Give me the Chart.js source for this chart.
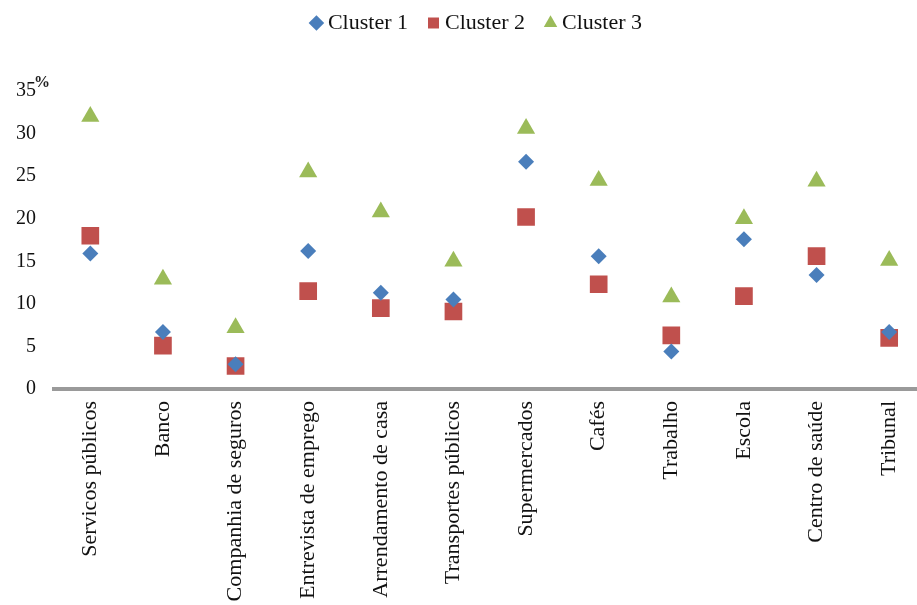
<!DOCTYPE html>
<html>
<head>
<meta charset="utf-8">
<script src="https://cdn.jsdelivr.net/npm/chart.js@4/dist/chart.umd.min.js"></script>
<style>
    html, body { margin: 0; padding: 0; background: #fff; overflow: hidden; }
    #wrap { width: 938px; height: 605px; }
</style>
</head>
<body>
<div id="wrap"><canvas id="chart"></canvas></div>
<script>
// Data
const categories = [
    'Servicos públicos', 'Banco', 'Companhia de seguros', 'Entrevista de emprego',
    'Arrendamento de casa', 'Transportes públicos', 'Supermercados', 'Cafés',
    'Trabalho', 'Escola', 'Centro de saúde', 'Tribunal'
];
const cluster1 = [15.9, 6.7, 2.9, 16.2, 11.3, 10.5, 26.7, 15.6, 4.4, 17.6, 13.4, 6.7];
const cluster2 = [18.0, 5.1, 2.7, 11.5, 9.5, 9.1, 20.2, 12.3, 6.3, 10.9, 15.6, 6.0];
const cluster3 = [32.0, 12.9, 7.2, 25.5, 20.8, 15.0, 30.6, 24.5, 10.8, 20.0, 24.4, 15.1];
const yTicks = [0, 5, 10, 15, 20, 25, 30, 35];

const serif = '"Liberation Serif", "DejaVu Serif", serif';

// extra room under the legend, and nudge where it is drawn
const legendSpacer = {
    id: 'legendSpacer',
    beforeInit: (chart) => {
        const legend = chart.legend;
        const fit = legend.fit;
        const draw = legend.draw;
        legend.fit = function () {
            fit.call(this);
            this.height += 34;
        };
        legend.draw = function (...args) {
            const ctx = this.ctx;
            ctx.save();
            ctx.translate(10, -13);
            draw.apply(this, args);
            ctx.restore();
        };
    }
};

// little "%" next to the top tick
const percentLabel = {
    id: 'percentLabel',
    afterDraw: (chart) => {
        const { ctx, scales } = chart;
        const y = scales.y.getPixelForValue(35);
        ctx.save();
        ctx.font = `bold 16px ${serif}`;
        ctx.fillStyle = '#222';
        ctx.textAlign = 'left';
        ctx.textBaseline = 'middle';
        ctx.fillText('%', 34, y - 8);
        ctx.restore();
    }
};

const ds = (label, data, color, style, radius) => ({
    label,
    data,
    backgroundColor: color,
    borderColor: color,
    pointStyle: style,
    pointRadius: radius,
    pointHoverRadius: radius,
    borderWidth: 0,
    showLine: false
});

new Chart(document.getElementById('chart'), {
    type: 'line',
    data: {
        labels: categories,
        datasets: [
            ds('Cluster 1', cluster1, '#4A7EBB', 'rectRot', 8),
            ds('Cluster 2', cluster2, '#C0504D', 'rect', 12.5),
            ds('Cluster 3', cluster3, '#9BBB59', 'triangle', 10.5)
        ]
    },
    options: {
        responsive: true,
        maintainAspectRatio: false,
        animation: false,
        layout: { padding: 0 },
        plugins: {
            tooltip: { enabled: false },
            legend: {
                position: 'top',
                labels: {
                    usePointStyle: true,
                    boxWidth: 1,
                    boxHeight: 11,
                    padding: 25,
                    color: '#111',
                    font: { family: serif, size: 22 }
                }
            }
        },
        scales: {
            x: {
                offset: true,
                grid: { display: false, drawTicks: false },
                border: { display: true, color: '#9a9a9a', width: 4 },
                ticks: {
                    autoSkip: false,
                    minRotation: 90,
                    maxRotation: 90,
                    padding: 12,
                    color: '#111',
                    font: { family: serif, size: 22 }
                },
                afterFit: (scale) => { scale.height = 216; }
            },
            y: {
                min: 0,
                max: 35,
                afterBuildTicks: (scale) => { scale.ticks = yTicks.map(v => ({ value: v })); },
                grid: { display: false, drawTicks: false },
                border: { display: false },
                ticks: {
                    padding: 18,
                    color: '#111',
                    font: { family: serif, size: 20 }
                },
                afterFit: (scale) => { scale.width = 54; }
            }
        }
    },
    plugins: [legendSpacer, percentLabel]
});
</script>
</body>
</html>
